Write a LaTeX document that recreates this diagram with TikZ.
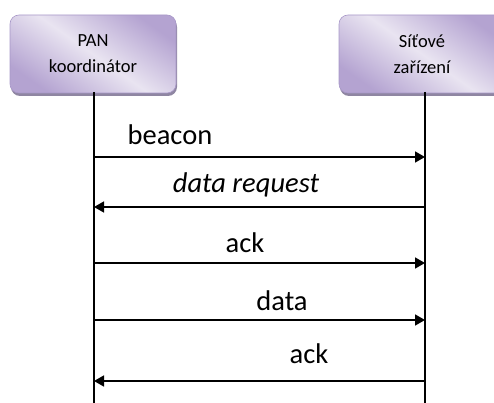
\documentclass[tikz,border=0pt]{standalone}
\usepackage{fontspec}
\setmainfont{Carlito}
\usetikzlibrary{arrows.meta,shadows}
\definecolor{lavdark}{HTML}{B4A3D1}
\definecolor{lavlight}{HTML}{E9E4F1}
\definecolor{lavedge}{HTML}{A898C8}
\definecolor{lavshadow}{HTML}{8F86A2}
\tikzset{
  actor/.style={rounded corners=9pt, draw=lavedge, line width=0.6pt,
    top color=lavdark, bottom color=lavdark, middle color=lavlight,
    shading angle=-35,
    drop shadow={shadow xshift=1pt, shadow yshift=-3pt, fill=lavshadow, opacity=1},
    minimum width=166pt, minimum height=78pt, inner sep=0pt,
    align=center, font=\fontsize{18.5}{26}\selectfont},
  lifeline/.style={line width=1.5pt},
  msg/.style={line width=1.6pt, -{Triangle[length=10pt,width=11pt]}},
  msglabel/.style={anchor=base, inner sep=0pt, font=\fontsize{28.5}{34}\selectfont},
}
\begin{document}
\begin{tikzpicture}[x=1pt,y=-1pt]
  \useasboundingbox (0,0) rectangle (494,403);
  \clip (0,0) rectangle (494,403);

  % participants
  \node[actor] (pan) at (93,54) {PAN\\koordinátor};
  \node[actor] (dev) at (422,54) {Síťové\\zařízení};

  % lifelines
  \coordinate (panTop) at (94,92);
  \coordinate (panEnd) at (94,403);
  \coordinate (devTop) at (425,92);
  \coordinate (devEnd) at (425,403);
  \draw[lifeline] (panTop) -- (panEnd);
  \draw[lifeline] (devTop) -- (devEnd);

  % message end points on the lifelines
  \foreach \n/\y in {1/157, 2/207, 3/263, 4/320, 5/381} {
    \coordinate (p\n) at (94,\y);
    \coordinate (d\n) at (425,\y);
  }

  % messages
  \draw[msg] (p1) -- (d1);
  \draw[msg] (d2) -- (p2);
  \draw[msg] (p3) -- (d3);
  \draw[msg] (p4) -- (d4);
  \draw[msg] (d5) -- (p5);

  % message labels
  \node[msglabel] (l1) at (170,145) {beacon};
  \node[msglabel] (l2) at (246,192) {\itshape data request};
  \node[msglabel] (l3) at (245,252) {ack};
  \node[msglabel] (l4) at (282,310) {data};
  \node[msglabel] (l5) at (309,363) {ack};
\end{tikzpicture}
\end{document}
